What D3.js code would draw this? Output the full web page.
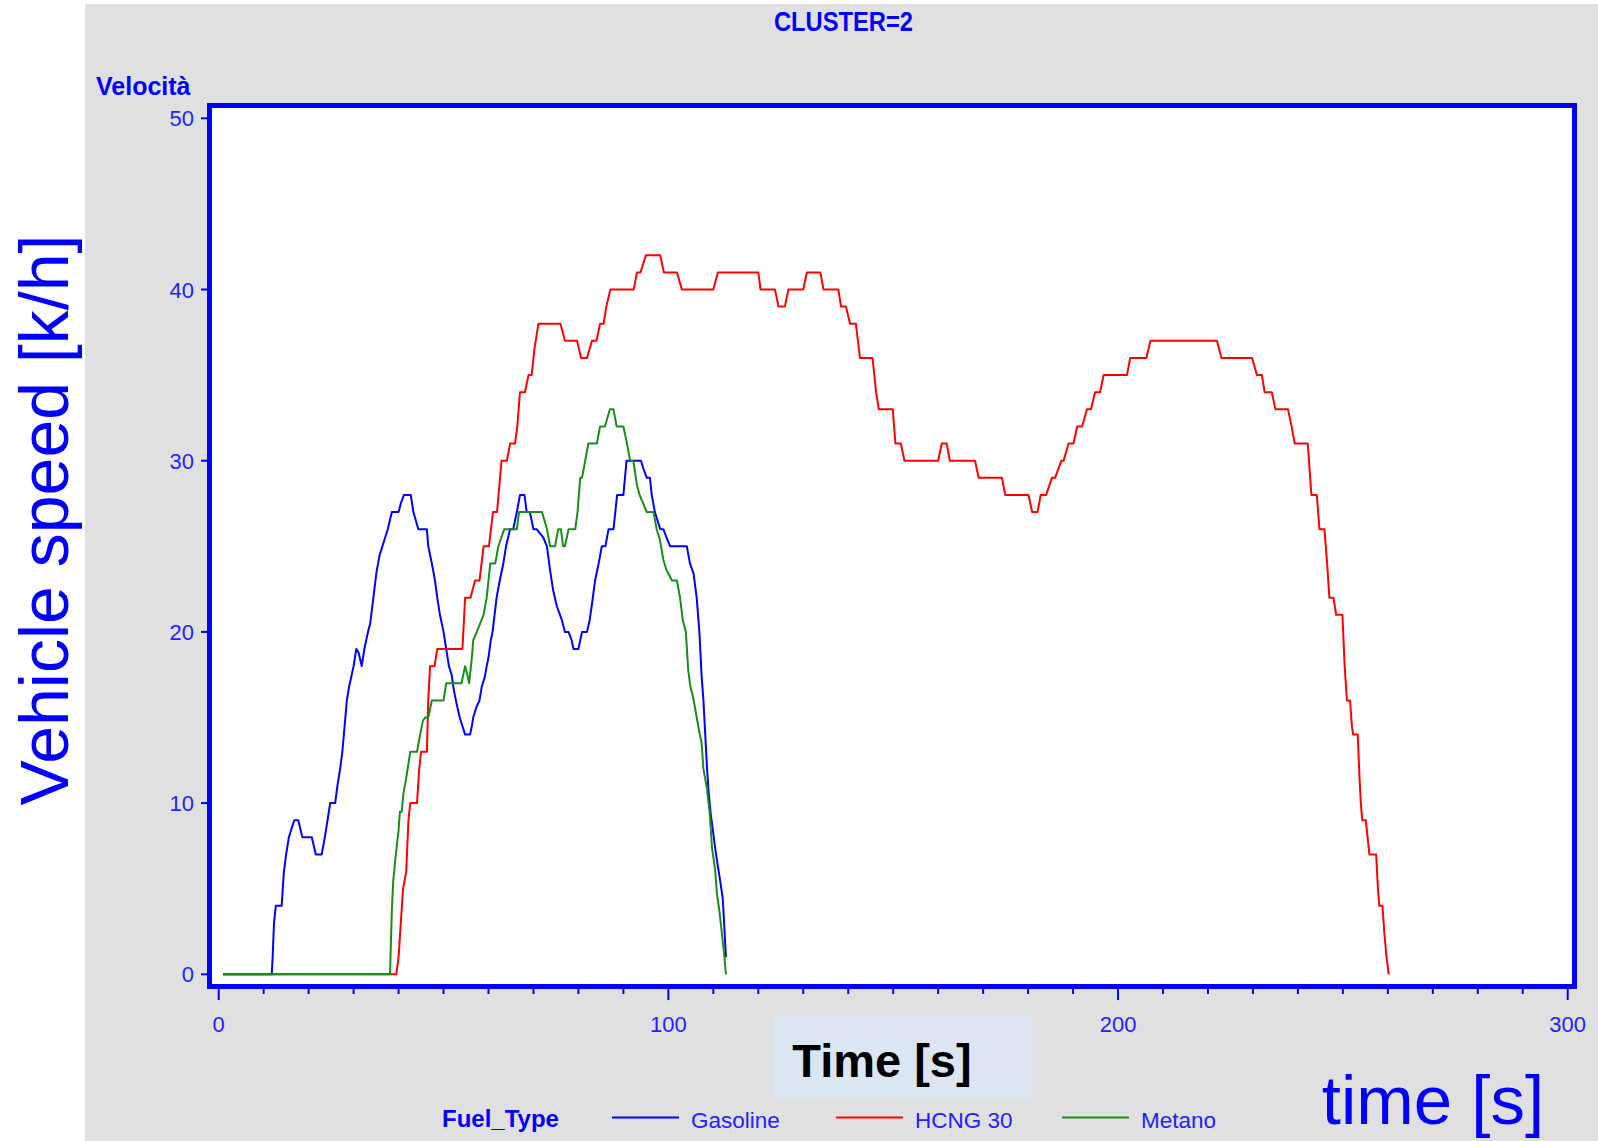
<!DOCTYPE html>
<html>
<head>
<meta charset="utf-8">
<script src="https://cdn.jsdelivr.net/npm/d3@7"></script>
<style>
body { margin: 0; background: #fff; }
text { font-family: 'Liberation Sans', Arial, sans-serif; }
</style>
</head>
<body>
<svg id="mainsvg" width="1598" height="1141"></svg>
<script>
const seriesNames = ['Gasoline', 'HCNG 30', 'Metano'];
const seriesColors = ['#0000ff', '#ff0000', '#1a8c1a'];

// [time s, speed km/h]
const gasoline = [[1,0],[11.8,0],[12,1],[12.3,3],[12.7,4],[14,4],[14.5,6],[15,7],[15.6,8],[16.8,9],[17.7,9],[18.6,8],[20.7,8],[21.6,7],[22.9,7],[23.6,8],[24.2,9],[24.8,10],[25.9,10],[26.4,11],[27,12],[27.5,13],[28,14.5],[28.5,16],[29,16.8],[30,18],[30.6,19],[31.1,18.8],[31.8,18],[32.4,19],[33.2,20],[33.7,20.5],[34.4,22],[35.1,23.5],[35.8,24.5],[37,25.5],[37.6,26],[38.5,27],[40,27],[40.5,27.5],[41.2,28],[42.7,28],[43.3,27],[44.4,26],[46.3,26],[46.6,25],[47.4,24],[48.1,23],[48.6,22],[49.2,21],[50,20],[50.6,19],[51.2,18],[51.8,17.5],[52.3,16.6],[52.9,15.8],[53.6,15],[54.2,14.5],[54.8,14],[55.9,14],[56.3,14.5],[56.6,15],[57.3,15.6],[58,16],[58.5,16.8],[59.2,17.4],[59.6,18],[60,18.5],[60.5,19.5],[60.9,20],[61.8,22],[62.5,23],[63.3,24],[63.9,25],[64.8,26],[65.5,26],[66.3,27],[67,28],[68,28],[68.5,27],[69.2,27],[70,26],[70.7,26],[72.2,25.5],[73,25],[73.7,23.6],[74.4,22.4],[75.2,21.5],[76.3,20.7],[77,20],[77.8,20],[78.5,19.5],[78.9,19],[80,19],[80.8,20],[81.9,20],[82.5,20.7],[83,21.6],[83.7,23],[84.5,24],[85.2,25],[86,25],[86.7,26],[87.8,26],[88.2,27],[88.6,28],[90,28],[90.7,30],[93.9,30],[94.5,29.5],[95.2,29],[95.9,29],[96.3,28],[97,27],[98.2,26],[98.9,26],[99.6,25.5],[100.4,25],[104.1,25],[104.8,24],[105.6,23.4],[106.3,22],[106.9,20],[107.4,17.4],[107.8,16],[108.2,14],[108.6,12],[109,10.5],[109.4,9.4],[109.9,8.4],[110.4,7.4],[110.9,6.5],[111.5,5.5],[112.1,4.4],[112.4,3],[112.8,1]];

const hcng30 = [[1,0],[39.5,0],[40,1],[40.5,3],[41,5],[41.7,6],[42.2,9],[42.6,10],[44.1,10],[44.6,12],[45,13],[46.3,13],[46.6,16],[47,18],[48,18],[48.6,19],[54.2,19],[54.8,22],[56,22],[57,23],[58,23],[58.9,25],[60.1,25],[61,27],[61.9,27],[62.9,30],[64.1,30],[64.8,31],[65.9,31],[66.4,32],[67,34],[68.1,34],[68.9,35],[69.6,35],[70.2,36.5],[71.1,38],[76,38],[77,37],[79.7,37],[80.6,36],[81.9,36],[83,37],[84,37],[84.8,38],[85.6,38],[86.2,39],[87.1,40],[92.3,40],[93,41],[93.8,41],[95,42],[98.2,42],[99,41],[101.9,41],[103,40],[110,40],[111,41],[120,41],[120.5,40],[123.7,40],[124.5,39],[125.9,39],[126.7,40],[130,40],[130.8,41],[133.8,41],[134.5,40],[137.8,40],[138.4,39],[139.5,39],[140.4,38],[141.7,38],[142.6,36],[145.4,36],[146.2,34],[146.8,33],[149.9,33],[150.5,31],[151.7,31],[152.5,30],[160,30],[160.8,31],[161.9,31],[162.6,30],[168.2,30],[169,29],[174.2,29],[174.9,28],[180.1,28],[180.9,27],[182.1,27],[182.8,28],[184,28],[185.3,29],[186,29],[187.4,30],[187.9,30],[189,31],[190.1,31],[190.9,32],[192,32],[193.1,33],[194,33],[194.9,34],[196,34],[196.8,35],[202,35],[202.7,36],[206.3,36],[207.2,37],[222,37],[223,36],[229.8,36],[230.9,35],[232,35],[232.6,34],[234.2,34],[235,33],[237.8,33],[238.6,32],[239.3,31],[242.2,31],[243,28],[244.2,28],[244.8,26],[245.9,26],[246.5,24],[247,22],[247.9,22],[248.5,21],[249.9,21],[250.4,18],[250.9,16],[251.6,16],[252,14.5],[252.3,14],[253.3,14],[253.7,11.5],[254,10],[254.3,9],[255.1,9],[255.5,8],[255.9,7],[257.4,7],[257.8,5],[258.1,4],[258.8,4],[259.2,2.5],[259.7,1],[260.2,0]];

const metano = [[1,0],[38.1,0],[38.5,3.7],[38.8,5.4],[39.2,6.5],[39.6,7.5],[40,8.4],[40.3,9.5],[40.7,9.5],[41.1,10.6],[41.6,11.3],[42.2,12.3],[42.6,13],[44.1,13],[44.8,14],[45.4,14.8],[45.9,15],[46.6,15],[47.4,16],[50,16],[50.6,17],[54,17],[54.8,18],[55.2,17.6],[55.7,17],[56.3,18.5],[56.6,19.5],[57.4,20],[58.9,21],[59.6,22],[60.4,24],[61.5,24],[62.2,25],[63.5,26],[66.3,26],[66.8,27],[71.9,27],[73,26],[73.7,25],[74.8,25],[75.5,26],[76.1,26],[76.6,25],[77,25],[77.8,26],[79.3,26],[79.8,27],[80.4,29],[80.8,29],[81.5,30],[82.2,31],[84.1,31],[84.8,32],[85.9,32],[87,33],[87.8,33],[88.5,32],[90,32],[90.8,31],[91.5,30],[92.2,30],[93,28.6],[93.6,28],[95.2,27],[96.7,27],[97.4,26],[98.1,25.4],[98.9,24.2],[99.6,23.6],[100.8,23],[101.9,23],[102.6,22],[103.2,20.7],[103.9,20],[104.4,17.8],[104.9,16.8],[105.5,16.2],[106.3,15],[107,14],[107.4,13.5],[107.8,12],[108.6,10.8],[109.2,9.4],[109.7,7.4],[110.4,6.1],[110.8,4.7],[111.3,3.8],[111.9,2.4],[112.4,1.2],[112.8,0]];

const xTicks = [0, 100, 200, 300];
const yTicks = [0, 10, 20, 30, 40, 50];

function draw() {
    const svg = d3.select('#mainsvg');
    const width = +svg.attr('width');
    const height = +svg.attr('height');
    const blue = '#0000ff';

    svg.append('rect').attr('x', 85).attr('y', 4)
        .attr('width', width - 85).attr('height', height - 4)
        .attr('fill', '#e0e0e0');

    const x = d3.scaleLinear().domain([0, 300]).range([218.7, 1567.7]);
    const y = d3.scaleLinear().domain([0, 50]).range([974.3, 118.3]);

    // plot frame
    svg.append('rect')
        .attr('x', 209.5).attr('y', 105.5)
        .attr('width', 1365).attr('height', 881)
        .attr('fill', '#fff')
        .attr('stroke', blue).attr('stroke-width', 5);

    // x axis below frame
    const xAxis = svg.append('g').attr('transform', 'translate(0,989)');
    xAxis.selectAll('line').data(x.ticks(30)).enter()
        .append('line')
        .attr('x1', d => x(d)).attr('x2', d => x(d))
        .attr('y1', 0).attr('y2', d => xTicks.includes(d) ? 11 : 5)
        .attr('stroke', blue).attr('stroke-width', 2);
    xAxis.selectAll('text').data(xTicks).enter()
        .append('text')
        .attr('x', d => x(d)).attr('y', 43)
        .attr('text-anchor', 'middle')
        .attr('font-size', 22)
        .attr('fill', '#2222ff')
        .text(d => d);

    // y axis left of frame
    const yAxis = svg.append('g');
    yAxis.selectAll('line').data(yTicks).enter()
        .append('line')
        .attr('x1', 201).attr('x2', 207)
        .attr('y1', d => y(d)).attr('y2', d => y(d))
        .attr('stroke', blue).attr('stroke-width', 2);
    yAxis.selectAll('text').data(yTicks).enter()
        .append('text')
        .attr('x', 194).attr('y', d => y(d) + 8)
        .attr('text-anchor', 'end')
        .attr('font-size', 22)
        .attr('fill', '#2222ff')
        .text(d => d);

    // series
    const line = d3.line().x(d => x(d[0])).y(d => y(d[1]));
    const allSeries = [gasoline, hcng30, metano];
    svg.append('g').selectAll('path').data(allSeries).enter()
        .append('path')
        .attr('d', line)
        .attr('fill', 'none')
        .attr('stroke', (d, i) => seriesColors[i])
        .attr('stroke-width', 2)
        .attr('stroke-linejoin', 'round');

    // titles
    svg.append('text').attr('x', 843.5).attr('y', 31)
        .attr('text-anchor', 'middle')
        .attr('font-weight', 'bold').attr('font-size', 27)
        .attr('textLength', 139).attr('lengthAdjust', 'spacingAndGlyphs')
        .attr('fill', blue).text('CLUSTER=2');
    svg.append('text').attr('x', 96).attr('y', 95)
        .attr('font-weight', 'bold').attr('font-size', 25)
        .attr('fill', blue).text('Velocità');

    // legend
    const legend = svg.append('g');
    legend.append('text').attr('x', 442).attr('y', 1127)
        .attr('font-weight', 'bold').attr('font-size', 24)
        .attr('fill', blue).text('Fuel_Type');
    const legendX = [612, 836, 1062];
    const items = legend.selectAll('g.item').data(seriesNames).enter()
        .append('g')
        .attr('transform', (d, i) => `translate(${legendX[i]},0)`);
    items.append('line')
        .attr('x1', 0).attr('x2', 67)
        .attr('y1', 1117.5).attr('y2', 1117.5)
        .attr('stroke', (d, i) => seriesColors[i]).attr('stroke-width', 2);
    items.append('text')
        .attr('x', 79).attr('y', 1128)
        .attr('font-size', 22.5)
        .attr('fill', '#2222ff')
        .text(d => d);

    // overlaid annotations
    svg.append('rect').attr('x', 773).attr('y', 1015)
        .attr('width', 258).attr('height', 84)
        .attr('fill', '#dce6f2');
    svg.append('text').attr('x', 882).attr('y', 1077)
        .attr('text-anchor', 'middle')
        .attr('font-weight', 'bold').attr('font-size', 47)
        .attr('fill', '#000').text('Time [s]');
    svg.append('text').attr('x', 1433).attr('y', 1124)
        .attr('text-anchor', 'middle')
        .attr('font-size', 69)
        .attr('fill', blue).text('time [s]');
    svg.append('text')
        .attr('transform', 'translate(68,520) rotate(-90)')
        .attr('text-anchor', 'middle')
        .attr('font-size', 68)
        .attr('fill', blue).text('Vehicle speed [k/h]');
}
draw();
</script>
</body>
</html>
